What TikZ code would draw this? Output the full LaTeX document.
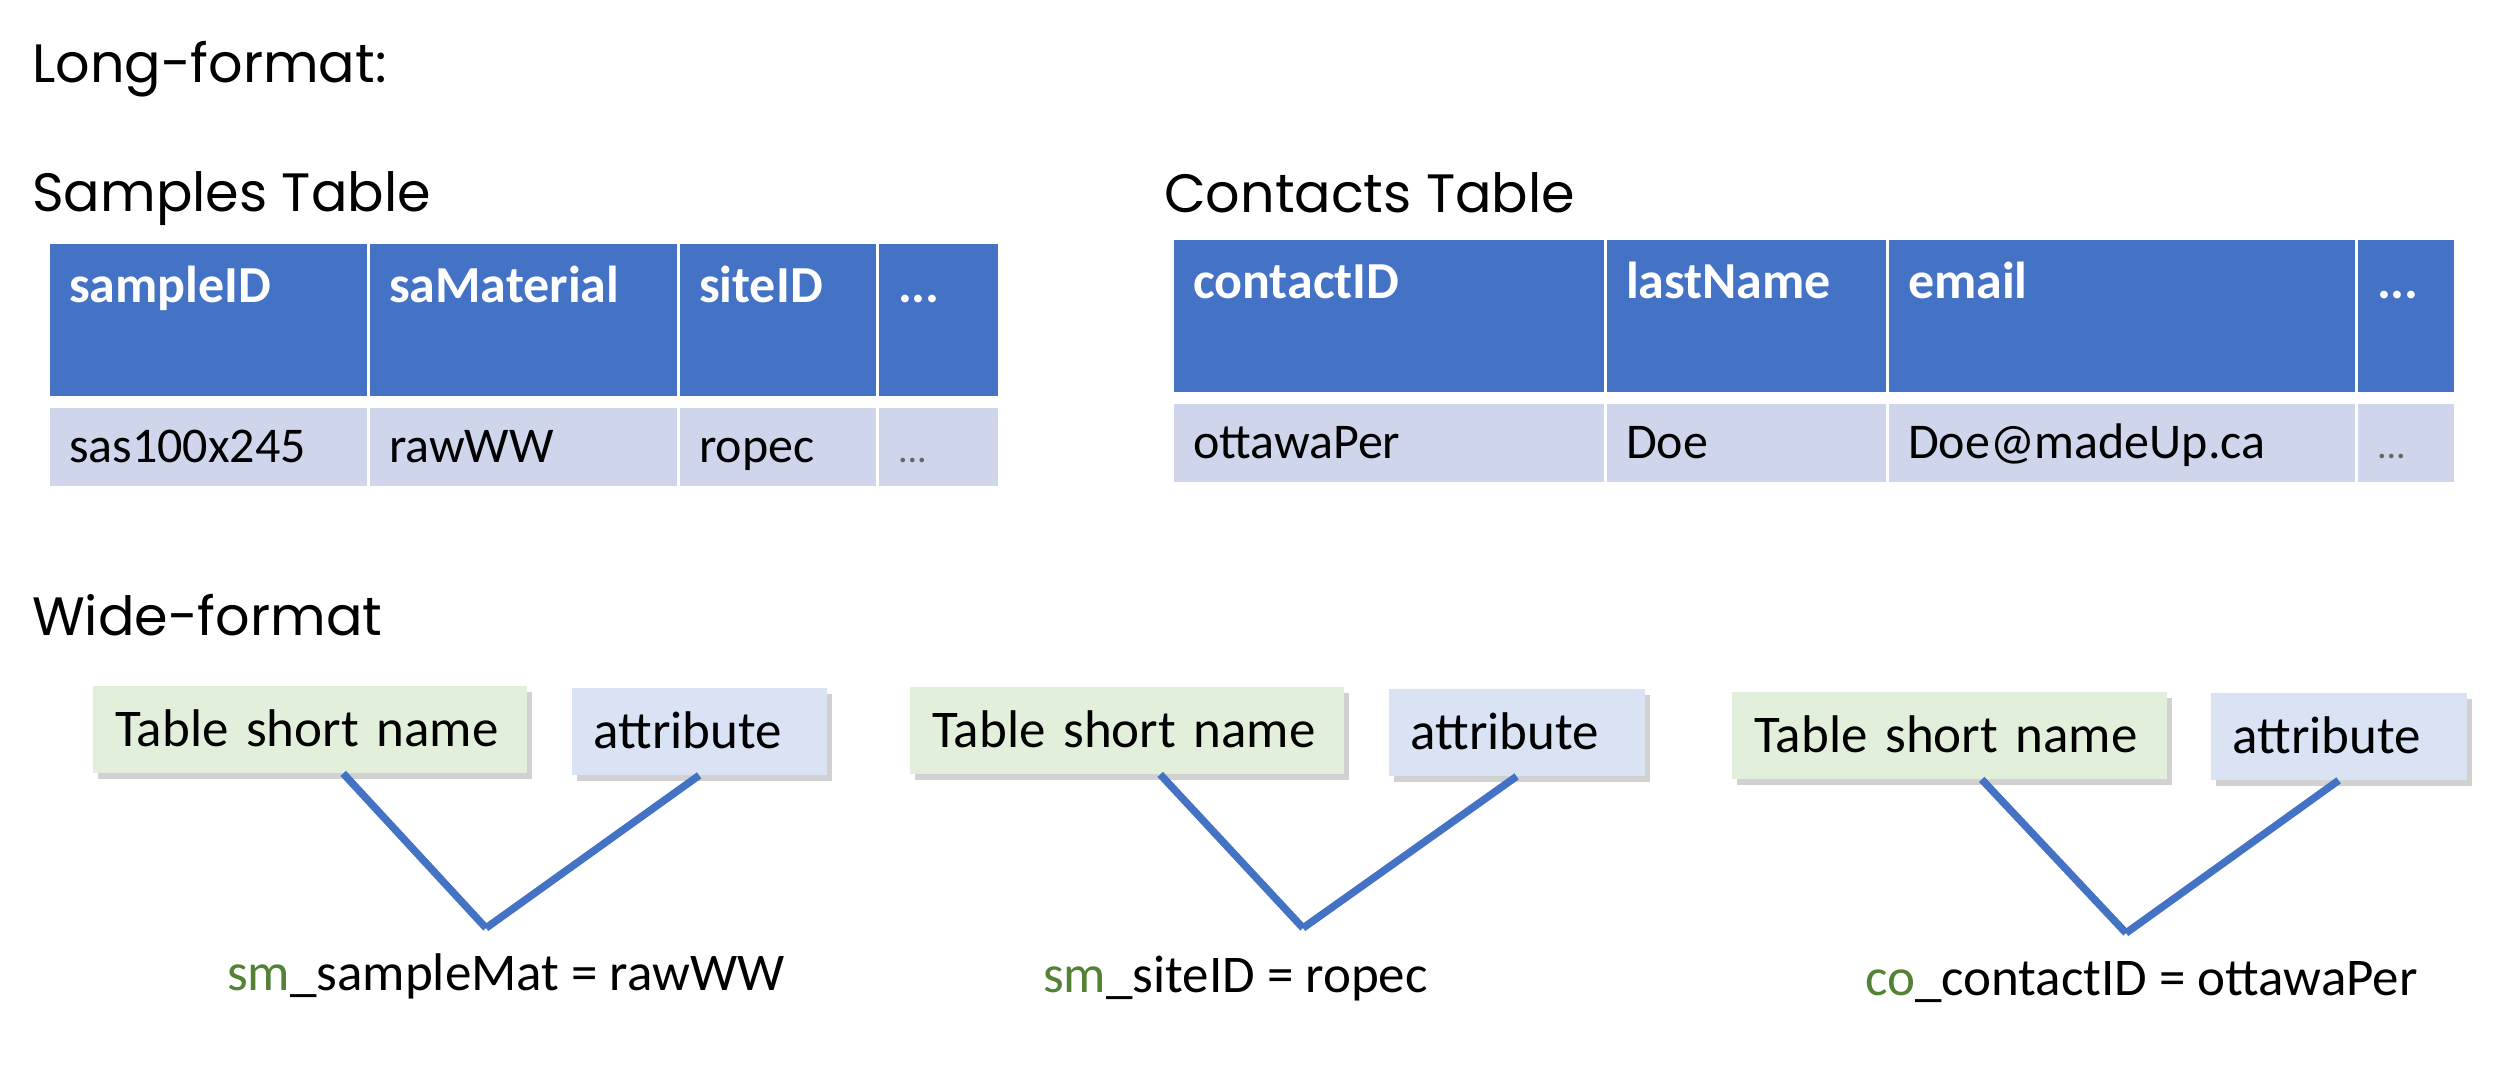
\documentclass[tikz,border=0pt]{standalone}
\usepackage{fontspec}
\setmainfont{Carlito}
\newfontfamily\headfont{Poppins}
\usetikzlibrary{positioning, calc, shadows}

\definecolor{hdblue}{HTML}{4472C4}
\definecolor{rowblue}{HTML}{CFD5EA}
\definecolor{namegreen}{HTML}{E2EFDA}
\definecolor{attrblue}{HTML}{DAE3F3}
\definecolor{prefgreen}{HTML}{548235}

\begin{document}
\begin{tikzpicture}[
    x=1pt, y=-1pt,
    node distance=0pt,
    heading/.style={font=\headfont\fontsize{54}{62}\selectfont, anchor=base west, inner sep=0pt},
    cell/.style={draw=white, line width=3pt, inner xsep=21pt, inner ysep=0pt, outer sep=0pt,
                 align=left, text width=#1},
    hcell/.style={cell=#1, fill=hdblue, text=white, font=\bfseries\fontsize{52}{60}\selectfont,
                  text height=60pt, text depth=95pt},
    dcell/.style={cell=#1, fill=rowblue, font=\fontsize{50}{60}\selectfont,
                  text height=56pt, text depth=25pt},
    dots/.style={text=black!60, font=\fontsize{38}{60}\selectfont},
    part/.style={inner xsep=22pt, inner ysep=0pt, align=left, text width=#1,
                 text height=60pt, text depth=27pt, font=\fontsize{53}{60}\selectfont,
                 drop shadow={shadow xshift=5pt, shadow yshift=-6pt, fill=black, opacity=0.18}},
    namebox/.style={part=#1, fill=namegreen},
    attrbox/.style={part=#1, fill=attrblue},
    link/.style={draw=hdblue, line width=7.5pt},
    lbl/.style={font=\fontsize{53}{60}\selectfont, anchor=base west, inner sep=0pt},
]
\useasboundingbox (0,0) rectangle (2510,1076);

% headings
\node[heading] (longhd) at (32,82) {Long-format:};
\node[heading] (samphd) at (32,211) {Samples Table};
\node[heading] (conthd) at (1164,212) {Contacts Table};
\node[heading] (widehd) at (32,635) {Wide-format};

% samples table
\node[hcell=278, anchor=north west] (sid) at (48,242) {sampleID};
\node[hcell=268, right=of sid] (smat) {saMaterial};
\node[hcell=157, right=of smat] (ssite) {siteID};
\node[hcell=80, right=of ssite] (sdots) {...};
\node[dcell=278, anchor=north west] (vid) at ([yshift=-9pt]sid.south west) {sas100x245};
\node[dcell=268, right=of vid] (vmat) {rawWW};
\node[dcell=157, right=of vmat] (vsite) {ropec};
\node[dcell=80, right=of vsite, dots] (vdots) {...};

% contacts table
\node[hcell=391, anchor=north west] (cid) at (1172,238) {contactID};
\node[hcell=240, right=of cid] (cname) {lastName};
\node[hcell=427, right=of cname] (cmail) {email};
\node[hcell=57, right=of cmail] (cdots) {...};
\node[dcell=391, anchor=north west] (wid) at ([yshift=-9pt]cid.south west) {ottawaPer};
\node[dcell=240, right=of wid] (wname) {Doe};
\node[dcell=427, right=of wname] (wmail) {Doe@madeUp.ca};
\node[dcell=57, right=of wmail, dots] (wdots) {...};

% wide-format names
\node[namebox=390, anchor=north west] (g1) at (93,686) {Table short name};
\node[attrbox=211, anchor=north west] (a1) at ([xshift=44pt, yshift=-2pt]g1.north east) {attribute};
\coordinate (j1) at (486,928);
\draw[link] ($(g1.south)+(33,0)$) -- (j1);
\draw[link] (a1.south) -- (j1);
\node[lbl] (f1) at (227,990) {\textcolor{prefgreen}{sm}\_sampleMat = rawWW};

\node[namebox=390, anchor=north west] (g2) at (910,687) {Table short name};
\node[attrbox=212, anchor=north west] (a2) at ([xshift=44pt, yshift=-2pt]g2.north east) {attribute};
\coordinate (j2) at (1303,928);
\draw[link] ($(g2.south)+(33,0)$) -- (j2);
\draw[link] (a2.south) -- (j2);
\node[lbl] (f2) at (1043,992) {\textcolor{prefgreen}{sm}\_siteID = ropec};

\node[namebox=391, anchor=north west] (g3) at (1732,692) {Table short name};
\node[attrbox=212, anchor=north west] (a3) at ([xshift=43pt, yshift=-1pt]g3.north east) {attribute};
\coordinate (j3) at (2126,933);
\draw[link] ($(g3.south)+(32,0)$) -- (j3);
\draw[link] (a3.south) -- (j3);
\node[lbl] (f3) at (1865,995) {\textcolor{prefgreen}{co}\_contactID = ottawaPer};

\end{tikzpicture}
\end{document}
